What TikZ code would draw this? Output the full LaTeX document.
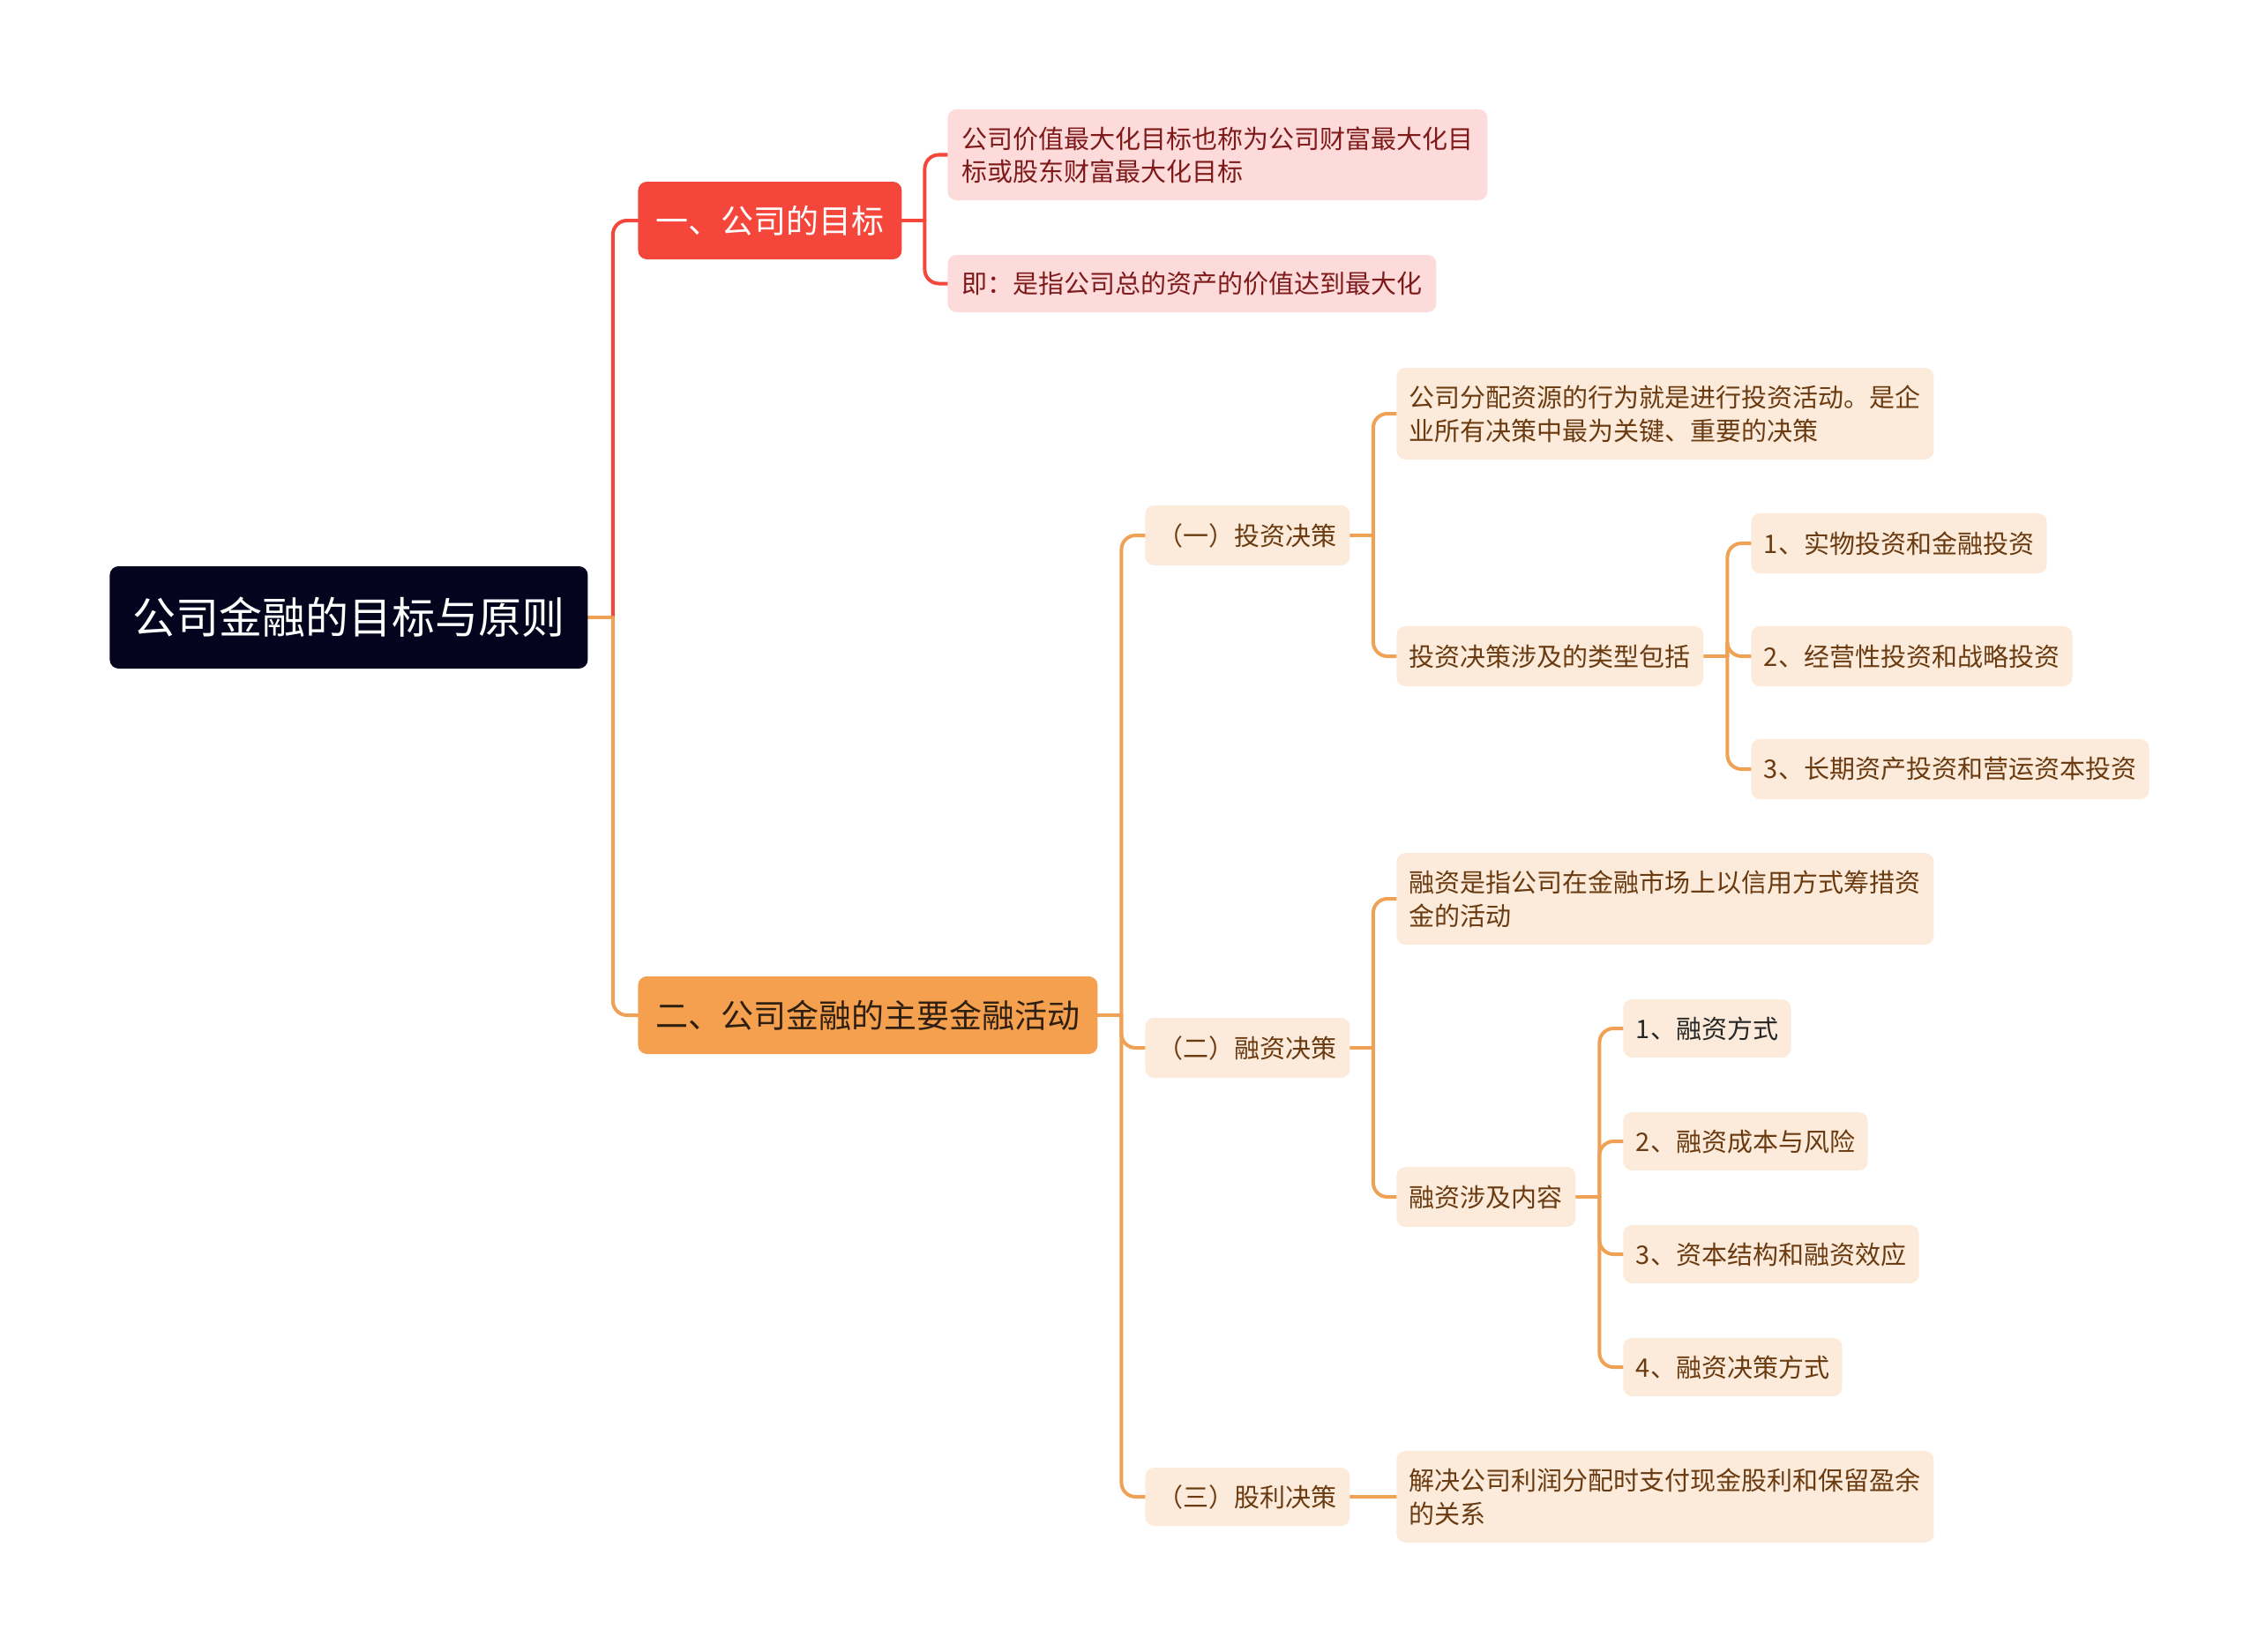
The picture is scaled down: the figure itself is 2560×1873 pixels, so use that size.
\documentclass[tikz,border=0pt]{standalone}
\usepackage{fontspec}
\setmainfont{Noto Sans CJK SC}
\usepackage{tikz}
\usetikzlibrary{calc,backgrounds}

\definecolor{rootblue}{HTML}{04041F}
\definecolor{redfill}{HTML}{F5463B}
\definecolor{redpale}{HTML}{FDDBDB}
\definecolor{redtext}{HTML}{7E1A1A}
\definecolor{orgfill}{HTML}{F4A04F}
\definecolor{orgline}{HTML}{EFA155}
\definecolor{orgpale}{HTML}{FCEBDA}
\definecolor{orgtext}{HTML}{6A3A10}
\definecolor{acttext}{HTML}{2E1F10}

\tikzset{
  box/.style={rounded corners=5pt, inner ysep=0pt, inner xsep=7.25pt, anchor=west, align=left},
  rootbox/.style={box, fill=rootblue, text=white, font=\fontsize{24.5}{30}\selectfont, minimum height=58pt, inner xsep=13pt},
  topbox/.style={box, font=\fontsize{18.5}{22}\selectfont, minimum height=44pt, inner xsep=10pt},
  redbox/.style={box, fill=redpale, text=redtext, font=\fontsize{14.5}{18.5}\selectfont, inner xsep=8pt},
  orgbox/.style={box, fill=orgpale, text=orgtext, font=\fontsize{14.5}{19}\selectfont},
  link/.style={line width=2pt, rounded corners=8pt, line cap=round},
}

\begin{document}
\begin{tikzpicture}[x=0.5pt, y=-0.5pt]
  \useasboundingbox (0,0) rectangle (2560,1873);

  % Root and main branches
  \node[rootbox] (root) at (124,700) {公司金融的目标与原则};
  \node[topbox, fill=redfill, text=white] (goal) at (723,250) {一、公司的目标};
  \node[topbox, fill=orgfill, text=acttext] (act) at (723,1151) {二、公司金融的主要金融活动};

  % Goal details
  \node[redbox, minimum height=51.5pt] (goalA) at (1074,175.5) {公司价值最大化目标也称为公司财富最大化目\\标或股东财富最大化目标};
  \node[redbox, minimum height=32.5pt] (goalB) at (1074,321.5) {即：是指公司总的资产的价值达到最大化};

  % Activities
  \node[orgbox, minimum height=34pt] (inv) at (1298,607) {（一）投资决策};
  \node[orgbox, minimum height=34pt] (fin) at (1298,1188) {（二）融资决策};
  \node[orgbox, minimum height=33pt] (div) at (1298,1697) {（三）股利决策};

  % Investment
  \node[orgbox, minimum height=52pt] (invA) at (1583,469) {公司分配资源的行为就是进行投资活动。是企\\业所有决策中最为关键、重要的决策};
  \node[orgbox, minimum height=34pt] (invB) at (1583,744) {投资决策涉及的类型包括};
  \node[orgbox, minimum height=34pt] (invB1) at (1985,616) {1、实物投资和金融投资};
  \node[orgbox, minimum height=34pt] (invB2) at (1985,744) {2、经营性投资和战略投资};
  \node[orgbox, minimum height=34pt] (invB3) at (1985,872) {3、长期资产投资和营运资本投资};

  % Financing
  \node[orgbox, minimum height=52pt] (finA) at (1583,1019) {融资是指公司在金融市场上以信用方式筹措资\\金的活动};
  \node[orgbox, minimum height=34pt] (finB) at (1583,1357) {融资涉及内容};
  \node[orgbox, minimum height=33pt, text=black!85] (finB1) at (1840,1166) {1、融资方式};
  \node[orgbox, minimum height=33pt] (finB2) at (1840,1294) {2、融资成本与风险};
  \node[orgbox, minimum height=33pt] (finB3) at (1840,1422) {3、资本结构和融资效应};
  \node[orgbox, minimum height=33pt] (finB4) at (1840,1550) {4、融资决策方式};

  % Dividend
  \node[orgbox, minimum height=52pt] (divA) at (1583,1697) {解决公司利润分配时支付现金股利和保留盈余\\的关系};

  % Connectors
  \begin{scope}[on background layer]
    \coordinate (rootbar) at ($(root.east)!.5!(goal.west |- root.east)$);
    \coordinate (goalbar) at ($(goal.east)!.5!(goalA.west |- goal.east)$);
    \coordinate (actbar) at ($(act.east)!.5!(inv.west |- act.east)$);
    \coordinate (invbar) at ($(inv.east)!.5!(invA.west |- inv.east)$);
    \coordinate (invBbar) at ($(invB.east)!.5!(invB1.west |- invB.east)$);
    \coordinate (finbar) at ($(fin.east)!.5!(finA.west |- fin.east)$);
    \coordinate (finBbar) at ($(finB.east)!.5!(finB1.west |- finB.east)$);

    \draw[link, orgline] (root.east) -- (rootbar);
    \draw[link, redfill] (rootbar) |- (goal.west);
    \draw[link, orgline] (rootbar) |- (act.west);

    \draw[link, redfill] (goal.east) -- (goalbar);
    \foreach \c in {goalA,goalB}
      \draw[link, redfill] (goalbar) |- (\c.west);

    \draw[link, orgline] (act.east) -- (actbar);
    \foreach \c in {inv,fin,div}
      \draw[link, orgline] (actbar) |- (\c.west);

    \draw[link, orgline] (inv.east) -- (invbar);
    \foreach \c in {invA,invB}
      \draw[link, orgline] (invbar) |- (\c.west);
    \draw[link, orgline] (invB.east) -- (invBbar);
    \foreach \c in {invB1,invB2,invB3}
      \draw[link, orgline] (invBbar) |- (\c.west);

    \draw[link, orgline] (fin.east) -- (finbar);
    \foreach \c in {finA,finB}
      \draw[link, orgline] (finbar) |- (\c.west);
    \draw[link, orgline] (finB.east) -- (finBbar);
    \foreach \c in {finB1,finB2,finB3,finB4}
      \draw[link, orgline] (finBbar) |- (\c.west);

    \draw[link, orgline] (div.east) -- (divA.west);
  \end{scope}
\end{tikzpicture}
\end{document}
